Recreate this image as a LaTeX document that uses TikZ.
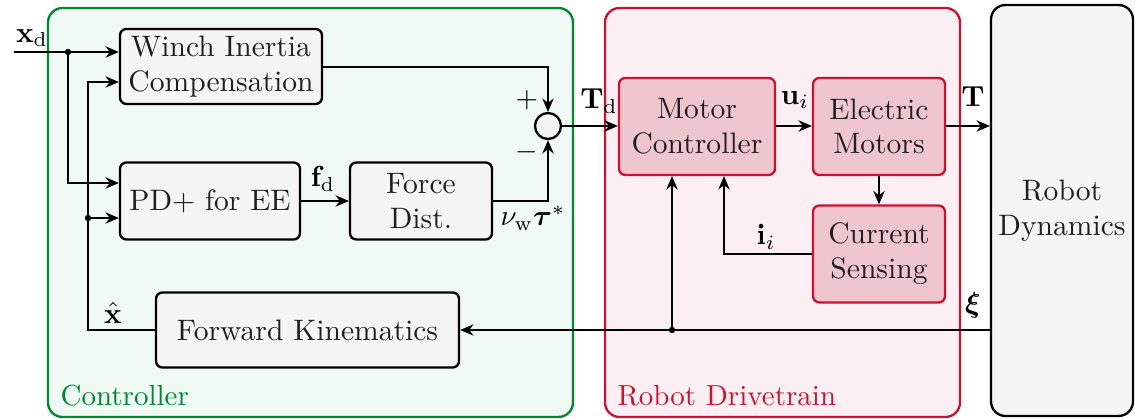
\documentclass[tikz,border=0pt]{standalone}
\usepackage{amsmath}
\usetikzlibrary{arrows.meta}
\definecolor{ctrlgreen}{RGB}{0,135,45}
\definecolor{ctrlfill}{RGB}{240,249,243}
\definecolor{drvred}{RGB}{200,20,50}
\definecolor{drvfill}{RGB}{251,239,243}
\definecolor{redbox}{RGB}{240,198,206}
\definecolor{graybox}{RGB}{245,245,245}
\def\pxu{0.3448pt}
\tikzset{
  blk/.style={draw=black, line width=0.8pt, rounded corners=2.2pt, fill=graybox, align=center, inner sep=0pt, text=black!88},
  rblk/.style={blk, draw=drvred, fill=redbox},
  conn/.style={line width=0.7pt, -{Stealth[length=4.6pt,width=3.9pt]}},
  jdot/.style={circle, fill=black, inner sep=0pt, minimum size=2.2pt},
  lbl/.style={inner sep=0pt},
  region/.style={line width=0.8pt, rounded corners=5pt}
}
\begin{document}
\begin{tikzpicture}[x=0.3448pt,y=-0.3448pt]
\useasboundingbox (0,0) rectangle (1135,419);
% regions
\draw[region, draw=ctrlgreen, fill=ctrlfill] (48,8) rectangle (573,417);
\draw[region, draw=drvred, fill=drvfill] (605,8) rectangle (960,417);
\node[lbl, anchor=west, text=ctrlgreen] (ctrllbl) at (60,396) {Controller};
\node[lbl, anchor=west, text=drvred] (drvlbl) at (617,396) {Robot Drivetrain};
% blocks
\node[blk, minimum width=202*\pxu, minimum height=75*\pxu] (win) at (221,66.5) {\fontsize{10.2}{12.6}\selectfont Winch Inertia\\\fontsize{10.2}{12.6}\selectfont Compensation};
\node[blk, minimum width=180*\pxu, minimum height=77*\pxu] (pd) at (210,201) {\fontsize{10.2}{12.6}\selectfont PD+ for EE};
\node[blk, minimum width=142*\pxu, minimum height=77*\pxu] (fd) at (421,201) {\fontsize{10.2}{12.6}\selectfont Force\\\fontsize{10.2}{12.6}\selectfont Dist.};
\node[draw=black, line width=0.8pt, circle, fill=graybox, minimum size=26*\pxu, inner sep=0pt] (sum) at (548,126) {};
\node[blk, minimum width=303*\pxu, minimum height=75*\pxu] (fk) at (307.5,330) {\fontsize{10.2}{12.6}\selectfont Forward Kinematics};
\node[rblk, minimum width=156*\pxu, minimum height=97*\pxu] (mc) at (697,126.5) {\fontsize{10.2}{12.6}\selectfont Motor\\\fontsize{10.2}{12.6}\selectfont Controller};
\node[rblk, minimum width=132*\pxu, minimum height=97*\pxu] (em) at (879,126.5) {\fontsize{10.2}{12.6}\selectfont Electric\\\fontsize{10.2}{12.6}\selectfont Motors};
\node[rblk, minimum width=132*\pxu, minimum height=97*\pxu] (cs) at (879,254) {\fontsize{10.2}{12.6}\selectfont Current\\\fontsize{10.2}{12.6}\selectfont Sensing};
\node[blk, rounded corners=5pt, minimum width=142*\pxu, minimum height=411*\pxu] (rd) at (1062,210.5) {\fontsize{10.2}{12.6}\selectfont Robot\\\fontsize{10.2}{12.6}\selectfont Dynamics};
% coordinates
\coordinate (xin) at (14,52);
\coordinate (j1) at (68,52);
\coordinate (j2) at (88,218);
\coordinate (j3) at (672,330);
% input
\draw[conn] (xin) -- (win.west |- xin);
\node[jdot] (d1) at (j1) {};
\draw[conn] (j1) |- (pd.west |- 0,183);
% feedback
\draw[conn] (fk.west) -| (88,82) -- (win.west |- 0,82);
\node[jdot] (d2) at (j2) {};
\draw[conn] (j2) -- (pd.west |- j2);
% winch to sum
\draw[conn] (win.east |- 0,67) -| (sum.north);
\draw[conn] (fd.east) -| (sum.south);
\draw[conn] (pd.east |- fd.west) -- (fd.west);
% sum to motor controller
\draw[conn] (sum.east) -- (mc.west |- sum.east);
\draw[conn] (mc.east |- 0,126) -- (em.west |- 0,126);
\draw[conn] (em.east |- 0,126) -- (rd.west |- 0,126);
\draw[conn] (em.south) -- (cs.north);
\draw[conn] (cs.west) -| (mc.south -| 724,0);
% dynamics feedback
\draw[conn] (rd.west |- j3) -- (fk.east |- j3);
\node[jdot] (d3) at (j3) {};
\draw[conn] (j3) -- (mc.south -| j3);
% labels
\node[lbl] (lxd) at (32,38) {$\mathbf{x}_\mathrm{d}$};
\node[lbl] (lplus) at (527,100) {$+$};
\node[lbl] (lminus) at (527,152) {$-$};
\node[lbl] (ltd) at (599,101) {$\mathbf{T}_\mathrm{d}$};
\node[lbl] (lfd) at (323,179) {$\mathbf{f}_\mathrm{d}$};
\node[lbl] (ltau) at (533,218) {$\nu_\mathrm{w}\boldsymbol{\tau}^*$};
\node[lbl] (lui) at (795,100) {$\mathbf{u}_i$};
\node[lbl] (lT) at (973,97) {$\mathbf{T}$};
\node[lbl] (lii) at (766,237) {$\mathbf{i}_i$};
\node[lbl] (lxi) at (973,305) {$\boldsymbol{\xi}$};
\node[lbl] (lxh) at (113,313) {$\hat{\mathbf{x}}$};
\end{tikzpicture}
\end{document}
